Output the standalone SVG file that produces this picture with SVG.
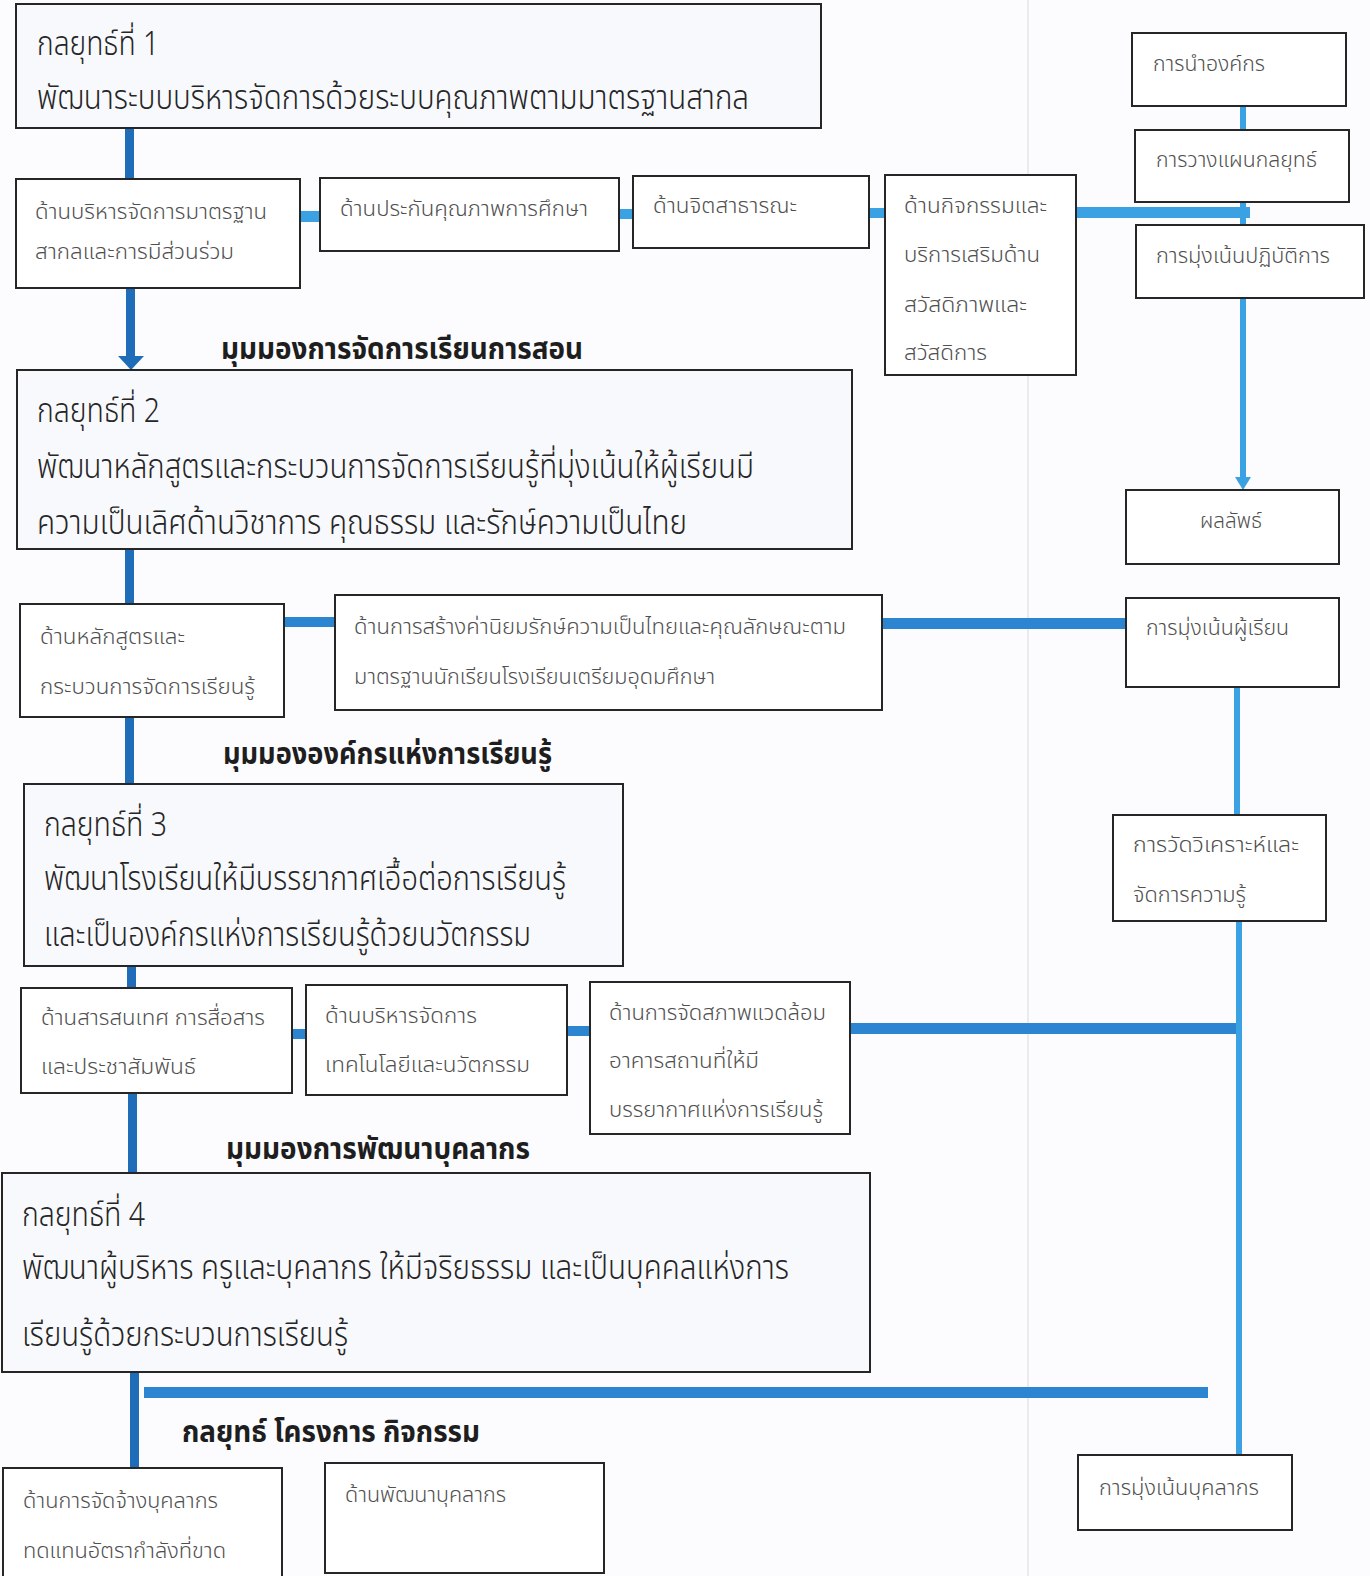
<svg xmlns="http://www.w3.org/2000/svg" width="1370" height="1576" viewBox="0 0 1370 1576">
<style>
.bg{fill:#fcfcfe}
.box{fill:#ffffff;stroke:#262626;stroke-width:2}
.sbox{fill:#f8f9fd;stroke:#262626;stroke-width:2}
text{font-family:"Noto Sans Thai","Noto Sans Thai UI","Noto Sans","DejaVu Sans",sans-serif}
.big{font-size:33px;font-weight:300;fill:#262626}
.sm{font-size:22px;font-weight:300;fill:#505050}
.lbl{font-size:30px;font-weight:bold;fill:#1e1e1e}
.dk{fill:#1f6cb8}
.lt{fill:#3aa1e2}
.md{fill:#2c85d0}
</style>
<rect class="bg" x="0" y="0" width="1370" height="1576"/>
<line x1="1028" y1="0" x2="1028" y2="1576" stroke="#e4e6ea" stroke-width="1.5"/>

<g id="connectors">
  <rect class="dk" x="125" y="128" width="9" height="51"/>
  <rect class="dk" x="126" y="288" width="9" height="70"/>
  <path class="dk" d="M118,356 L144,356 L131,370 z"/>
  <rect class="dk" x="125" y="549" width="9" height="55"/>
  <rect class="dk" x="125" y="717" width="9" height="67"/>
  <rect class="dk" x="127" y="966" width="9" height="22"/>
  <rect class="dk" x="128" y="1093" width="9" height="80"/>
  <rect class="dk" x="130" y="1372" width="9" height="96"/>
  <rect class="lt" x="300" y="211" width="20" height="11"/>
  <rect class="lt" x="619" y="209" width="14" height="10"/>
  <rect class="lt" x="869" y="208" width="16" height="10"/>
  <rect class="lt" x="1076" y="207" width="174" height="11"/>
  <rect class="lt" x="1240" y="106" width="6" height="24"/>
  <rect class="lt" x="1240" y="202" width="6" height="23"/>
  <rect class="lt" x="1240" y="298" width="6" height="180"/>
  <path class="lt" d="M1235,477 L1251,477 L1243,490 z"/>
  <rect class="md" x="284" y="617" width="51" height="10"/>
  <rect class="md" x="882" y="618" width="244" height="11"/>
  <rect class="lt" x="1234" y="687" width="6" height="128"/>
  <rect class="lt" x="1236" y="921" width="6" height="534"/>
  <rect class="md" x="292" y="1029" width="14" height="10"/>
  <rect class="md" x="567" y="1026" width="23" height="10"/>
  <rect class="md" x="850" y="1023" width="386" height="11"/>
  <rect class="md" x="144" y="1387" width="1064" height="11"/>
</g>

<g id="s1">
  <rect class="sbox" x="16" y="4" width="805" height="124"/>
  <text class="big" x="37" y="55" textLength="122" lengthAdjust="spacingAndGlyphs">กลยุทธ์ที่ 1</text>
  <text class="big" x="37" y="109" textLength="712" lengthAdjust="spacingAndGlyphs">พัฒนาระบบบริหารจัดการด้วยระบบคุณภาพตามมาตรฐานสากล</text>
</g>
<g id="a1">
  <rect class="box" x="16" y="179" width="284" height="109"/>
  <text class="sm" x="35" y="219" textLength="232" lengthAdjust="spacingAndGlyphs">ด้านบริหารจัดการมาตรฐาน</text>
  <text class="sm" x="35" y="259" textLength="199" lengthAdjust="spacingAndGlyphs">สากลและการมีส่วนร่วม</text>
</g>
<g id="a2">
  <rect class="box" x="320" y="178" width="299" height="73"/>
  <text class="sm" x="340" y="216" textLength="248" lengthAdjust="spacingAndGlyphs">ด้านประกันคุณภาพการศึกษา</text>
</g>
<g id="a3">
  <rect class="box" x="633" y="176" width="236" height="72"/>
  <text class="sm" x="653" y="213" textLength="144" lengthAdjust="spacingAndGlyphs">ด้านจิตสาธารณะ</text>
</g>
<g id="a4">
  <rect class="box" x="885" y="175" width="191" height="200"/>
  <text class="sm" x="904" y="213" textLength="143" lengthAdjust="spacingAndGlyphs">ด้านกิจกรรมและ</text>
  <text class="sm" x="904" y="262" textLength="136" lengthAdjust="spacingAndGlyphs">บริการเสริมด้าน</text>
  <text class="sm" x="904" y="312" textLength="123" lengthAdjust="spacingAndGlyphs">สวัสดิภาพและ</text>
  <text class="sm" x="904" y="360" textLength="83" lengthAdjust="spacingAndGlyphs">สวัสดิการ</text>
</g>
<g id="r1">
  <rect class="box" x="1132" y="33" width="214" height="73"/>
  <text class="sm" x="1153" y="71" textLength="112" lengthAdjust="spacingAndGlyphs">การนำองค์กร</text>
</g>
<g id="r2">
  <rect class="box" x="1135" y="130" width="214" height="72"/>
  <text class="sm" x="1156" y="167" textLength="161" lengthAdjust="spacingAndGlyphs">การวางแผนกลยุทธ์</text>
</g>
<g id="r3">
  <rect class="box" x="1136" y="225" width="228" height="73"/>
  <text class="sm" x="1156" y="263" textLength="174" lengthAdjust="spacingAndGlyphs">การมุ่งเน้นปฏิบัติการ</text>
</g>
<g id="r4">
  <rect class="box" x="1126" y="490" width="213" height="74"/>
  <text class="sm" x="1200" y="528" textLength="62" lengthAdjust="spacingAndGlyphs">ผลลัพธ์</text>
</g>
<g id="r5">
  <rect class="box" x="1126" y="598" width="213" height="89"/>
  <text class="sm" x="1146" y="635" textLength="143" lengthAdjust="spacingAndGlyphs">การมุ่งเน้นผู้เรียน</text>
</g>
<g id="r6">
  <rect class="box" x="1113" y="815" width="213" height="106"/>
  <text class="sm" x="1133" y="852" textLength="166" lengthAdjust="spacingAndGlyphs">การวัดวิเคราะห์และ</text>
  <text class="sm" x="1133" y="902" textLength="113" lengthAdjust="spacingAndGlyphs">จัดการความรู้</text>
</g>
<g id="r7">
  <rect class="box" x="1078" y="1455" width="214" height="75"/>
  <text class="sm" x="1099" y="1495" textLength="160" lengthAdjust="spacingAndGlyphs">การมุ่งเน้นบุคลากร</text>
</g>

<g id="label1">
  <text class="lbl" x="221" y="359" textLength="362" lengthAdjust="spacingAndGlyphs">มุมมองการจัดการเรียนการสอน</text>
</g>
<g id="s2">
  <rect class="sbox" x="17" y="370" width="835" height="179"/>
  <text class="big" x="37" y="422" textLength="123" lengthAdjust="spacingAndGlyphs">กลยุทธ์ที่ 2</text>
  <text class="big" x="37" y="478" textLength="717" lengthAdjust="spacingAndGlyphs">พัฒนาหลักสูตรและกระบวนการจัดการเรียนรู้ที่มุ่งเน้นให้ผู้เรียนมี</text>
  <text class="big" x="37" y="534" textLength="650" lengthAdjust="spacingAndGlyphs">ความเป็นเลิศด้านวิชาการ คุณธรรม และรักษ์ความเป็นไทย</text>
</g>
<g id="b1">
  <rect class="box" x="20" y="604" width="264" height="113"/>
  <text class="sm" x="40" y="644" textLength="145" lengthAdjust="spacingAndGlyphs">ด้านหลักสูตรและ</text>
  <text class="sm" x="40" y="694" textLength="215" lengthAdjust="spacingAndGlyphs">กระบวนการจัดการเรียนรู้</text>
</g>
<g id="b2">
  <rect class="box" x="335" y="595" width="547" height="115"/>
  <text class="sm" x="354" y="634" textLength="492" lengthAdjust="spacingAndGlyphs">ด้านการสร้างค่านิยมรักษ์ความเป็นไทยและคุณลักษณะตาม</text>
  <text class="sm" x="354" y="684" textLength="361" lengthAdjust="spacingAndGlyphs">มาตรฐานนักเรียนโรงเรียนเตรียมอุดมศึกษา</text>
</g>

<g id="label2">
  <text class="lbl" x="223" y="764" textLength="329" lengthAdjust="spacingAndGlyphs">มุมมององค์กรแห่งการเรียนรู้</text>
</g>
<g id="s3">
  <rect class="sbox" x="24" y="784" width="599" height="182"/>
  <text class="big" x="44" y="836" textLength="123" lengthAdjust="spacingAndGlyphs">กลยุทธ์ที่ 3</text>
  <text class="big" x="44" y="890" textLength="522" lengthAdjust="spacingAndGlyphs">พัฒนาโรงเรียนให้มีบรรยากาศเอื้อต่อการเรียนรู้</text>
  <text class="big" x="44" y="946" textLength="487" lengthAdjust="spacingAndGlyphs">และเป็นองค์กรแห่งการเรียนรู้ด้วยนวัตกรรม</text>
</g>
<g id="c1">
  <rect class="box" x="21" y="988" width="271" height="105"/>
  <text class="sm" x="41" y="1025" textLength="224" lengthAdjust="spacingAndGlyphs">ด้านสารสนเทศ การสื่อสาร</text>
  <text class="sm" x="41" y="1074" textLength="155" lengthAdjust="spacingAndGlyphs">และประชาสัมพันธ์</text>
</g>
<g id="c2">
  <rect class="box" x="306" y="985" width="261" height="110"/>
  <text class="sm" x="325" y="1023" textLength="152" lengthAdjust="spacingAndGlyphs">ด้านบริหารจัดการ</text>
  <text class="sm" x="325" y="1072" textLength="205" lengthAdjust="spacingAndGlyphs">เทคโนโลยีและนวัตกรรม</text>
</g>
<g id="c3">
  <rect class="box" x="590" y="982" width="260" height="152"/>
  <text class="sm" x="609" y="1020" textLength="217" lengthAdjust="spacingAndGlyphs">ด้านการจัดสภาพแวดล้อม</text>
  <text class="sm" x="609" y="1068" textLength="150" lengthAdjust="spacingAndGlyphs">อาคารสถานที่ให้มี</text>
  <text class="sm" x="609" y="1117" textLength="214" lengthAdjust="spacingAndGlyphs">บรรยากาศแห่งการเรียนรู้</text>
</g>

<g id="label3">
  <text class="lbl" x="226" y="1159" textLength="304" lengthAdjust="spacingAndGlyphs">มุมมองการพัฒนาบุคลากร</text>
</g>
<g id="s4">
  <rect class="sbox" x="2" y="1173" width="868" height="199"/>
  <text class="big" x="22" y="1226" textLength="123" lengthAdjust="spacingAndGlyphs">กลยุทธ์ที่ 4</text>
  <text class="big" x="22" y="1279" textLength="767" lengthAdjust="spacingAndGlyphs">พัฒนาผู้บริหาร ครูและบุคลากร ให้มีจริยธรรม และเป็นบุคคลแห่งการ</text>
  <text class="big" x="22" y="1346" textLength="326" lengthAdjust="spacingAndGlyphs">เรียนรู้ด้วยกระบวนการเรียนรู้</text>
</g>

<g id="label4">
  <text class="lbl" x="182" y="1442" textLength="298" lengthAdjust="spacingAndGlyphs">กลยุทธ์ โครงการ กิจกรรม</text>
</g>
<g id="d1">
  <rect class="box" x="3" y="1468" width="279" height="120"/>
  <text class="sm" x="23" y="1508" textLength="195" lengthAdjust="spacingAndGlyphs">ด้านการจัดจ้างบุคลากร</text>
  <text class="sm" x="23" y="1558" textLength="203" lengthAdjust="spacingAndGlyphs">ทดแทนอัตรากำลังที่ขาด</text>
</g>
<g id="d2">
  <rect class="box" x="325" y="1463" width="279" height="110"/>
  <text class="sm" x="345" y="1502" textLength="161" lengthAdjust="spacingAndGlyphs">ด้านพัฒนาบุคลากร</text>
</g>
</svg>
